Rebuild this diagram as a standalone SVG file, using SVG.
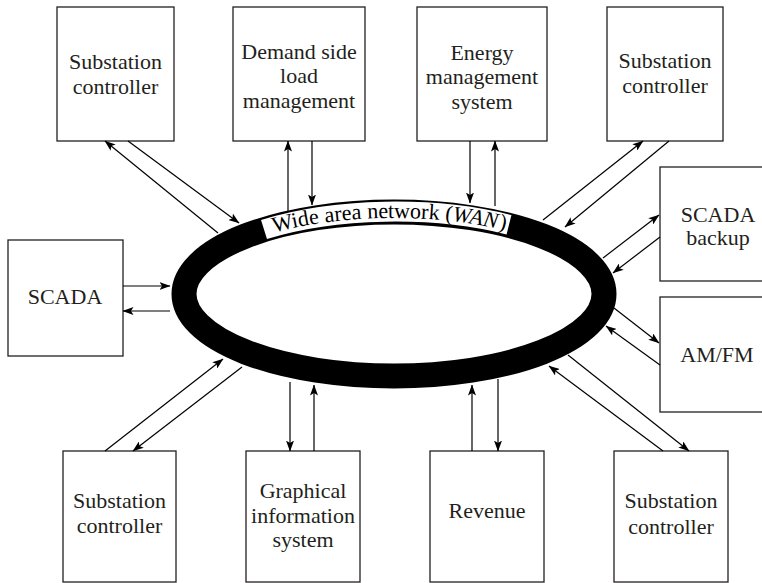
<svg xmlns="http://www.w3.org/2000/svg" xmlns:xlink="http://www.w3.org/1999/xlink" width="762" height="583" viewBox="0 0 762 583">
<style>
.box{fill:#fff;stroke:#231f20;stroke-width:1.3}
.lbl{font-size:22px;fill:#231f20;text-anchor:middle}
.con line{stroke:#000;stroke-width:1.2;fill:none}
.con .h{marker-end:url(#ah)}
</style>
<defs>
<marker id="ah" viewBox="0 0 11 8" refX="10.5" refY="4" markerWidth="11" markerHeight="8" orient="auto" markerUnits="userSpaceOnUse">
<path d="M0,0 L11,4 L0,8 L2.5,4 z" fill="#000"/>
</marker>
<path id="tp" d="M190,294 A204 76 0 0 1 598 294"/>
</defs>
<rect width="762" height="583" fill="#fff"/>

<g id="wan" font-family="Liberation Serif, Times New Roman, serif">
<ellipse cx="394" cy="294" rx="210" ry="82" fill="none" stroke="#000" stroke-width="25"/>
<path d="M264,229.5 A210 82 0 0 1 509,224.8" fill="none" stroke="#fff" stroke-width="20"/>
<text font-size="22" fill="#000" text-anchor="middle"><textPath xlink:href="#tp" href="#tp" startOffset="49%">Wide area network (<tspan font-style="italic">WAN</tspan><tspan dx="1.5">)</tspan></textPath></text>
</g>

<g id="nodes" font-family="Liberation Serif, Times New Roman, serif">
<g id="n-sub-tl"><rect class="box" x="57" y="7" width="117" height="134"/><text class="lbl"><tspan x="115.5" y="69">Substation</tspan><tspan x="115.5" y="94">controller</tspan></text></g>
<g id="n-demand"><rect class="box" x="233" y="7" width="132" height="134"/><text class="lbl"><tspan x="299" y="58.5">Demand side</tspan><tspan x="299" y="83">load</tspan><tspan x="299" y="107.5">management</tspan></text></g>
<g id="n-ems"><rect class="box" x="417" y="7" width="130" height="134"/><text class="lbl"><tspan x="482" y="59.5">Energy</tspan><tspan x="482" y="84">management</tspan><tspan x="482" y="108.5">system</tspan></text></g>
<g id="n-sub-tr"><rect class="box" x="607" y="7" width="116" height="134"/><text class="lbl"><tspan x="665" y="68">Substation</tspan><tspan x="665" y="93">controller</tspan></text></g>
<g id="n-scada-backup"><rect class="box" x="660" y="167" width="116" height="114"/><text class="lbl"><tspan x="718" y="222">SCADA</tspan><tspan x="718" y="245">backup</tspan></text></g>
<g id="n-amfm"><rect class="box" x="660" y="297" width="116" height="115"/><text class="lbl" x="717" y="362">AM/FM</text></g>
<g id="n-scada"><rect class="box" x="8" y="240" width="115" height="116"/><text class="lbl" x="65" y="304">SCADA</text></g>
<g id="n-sub-bl"><rect class="box" x="63" y="451" width="113" height="131"/><text class="lbl"><tspan x="119.5" y="508">Substation</tspan><tspan x="119.5" y="533">controller</tspan></text></g>
<g id="n-gis"><rect class="box" x="246" y="451" width="114" height="131"/><text class="lbl"><tspan x="303" y="498">Graphical</tspan><tspan x="303" y="523">information</tspan><tspan x="303" y="547">system</tspan></text></g>
<g id="n-revenue"><rect class="box" x="430" y="451" width="114" height="131"/><text class="lbl" x="487" y="518">Revenue</text></g>
<g id="n-sub-br"><rect class="box" x="614" y="451" width="114" height="131"/><text class="lbl"><tspan x="671" y="508">Substation</tspan><tspan x="671" y="534">controller</tspan></text></g>
</g>

<g id="connectors" class="con">
<line class="h" x1="218" y1="233" x2="105" y2="141"/>
<line class="h" x1="128" y1="141" x2="239" y2="223"/>
<line class="h" x1="288" y1="212" x2="288" y2="141"/>
<line class="h" x1="312" y1="141" x2="312" y2="205"/>
<line class="h" x1="470" y1="141" x2="470" y2="203"/>
<line class="h" x1="495" y1="206" x2="495" y2="141"/>
<line class="h" x1="543" y1="220" x2="643" y2="141"/>
<line class="h" x1="669" y1="141" x2="565" y2="227"/>
<line class="h" x1="603" y1="258" x2="659" y2="215"/>
<line class="h" x1="660" y1="237" x2="613" y2="273"/>
<line class="h" x1="614" y1="308" x2="659" y2="343"/>
<line class="h" x1="660" y1="365" x2="606" y2="326"/>
<line class="h" x1="663" y1="451" x2="549" y2="366"/>
<line class="h" x1="568" y1="355" x2="689" y2="451"/>
<line class="h" x1="472" y1="451" x2="472" y2="385"/>
<line class="h" x1="498" y1="379" x2="498" y2="451"/>
<line class="h" x1="290" y1="382" x2="290" y2="451"/>
<line class="h" x1="314" y1="451" x2="314" y2="385"/>
<line class="h" x1="105" y1="451" x2="223" y2="359"/>
<line class="h" x1="242" y1="367" x2="133" y2="451"/>
<line class="h" x1="123" y1="286" x2="170" y2="286"/>
<line class="h" x1="170" y1="311" x2="123" y2="311"/>
</g>
</svg>
